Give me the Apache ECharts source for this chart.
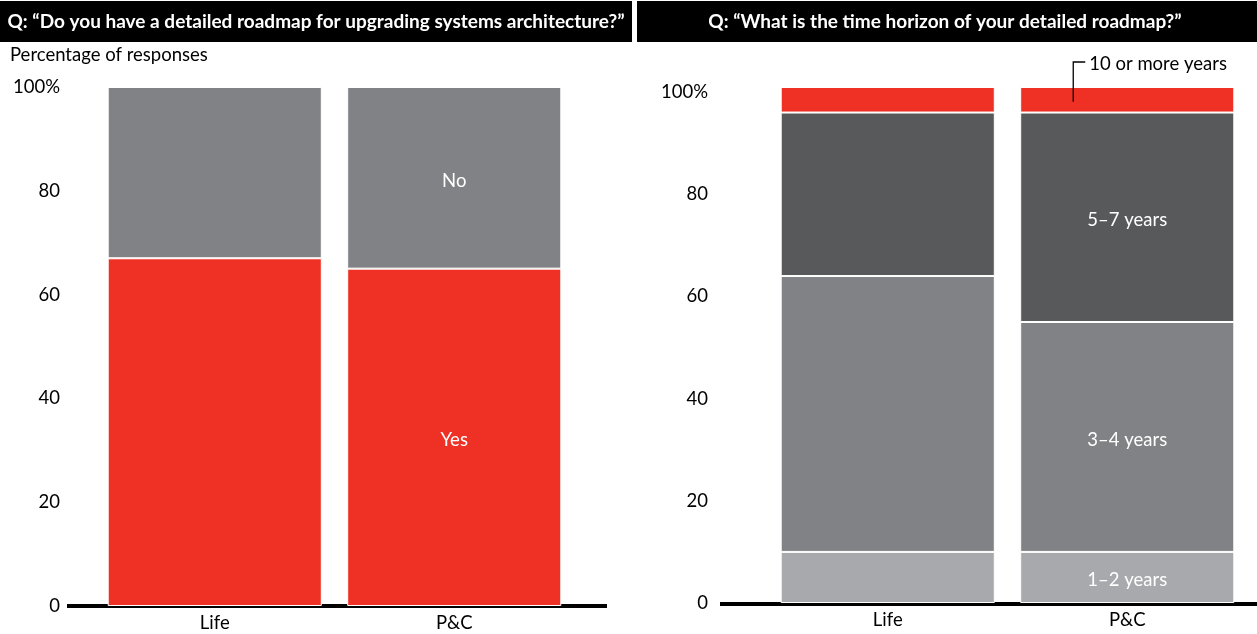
<!DOCTYPE html>
<html><head><meta charset="utf-8">
<script src="https://cdn.jsdelivr.net/npm/echarts@6/dist/echarts.min.js"></script>
<style>html,body{margin:0;padding:0;background:#fff}#c{width:1257px;height:634px}</style>
</head><body><div id="c"></div>
<script>
const categories = ['Life', 'P&C'];
// Left panel: "Do you have a detailed roadmap..."
const leftYes = [67, 65];
const leftNo = [33, 35];
// Right panel: time horizon (rounded shares, stacks reach 101)
const r12 = [10, 10];
const r34 = [54, 45];
const r57 = [32, 41];
const r10 = [5, 5];
const yTickMax = 100;
const yTickStep = 20;
const leftTitle = 'Q: \u201cDo you have a detailed roadmap for upgrading systems architecture?\u201d';
const rightTitle = 'Q: \u201cWhat is the time horizon of your detailed roadmap?\u201d';
const yAxisName = 'Percentage of responses';
const labelsLeft = {Yes: 'Yes', No: 'No'};
const labelsRight = {r12: '1\u20132 years', r34: '3\u20134 years', r57: '5\u20137 years', r10: '10 or more years'};

const FONT = 'Lato';
const FS = 18.5;
const RED = '#EF3125', G1 = '#58595B', G2 = '#808285', G3 = '#A7A9AC';

const chart = echarts.init(document.getElementById('c'), null, {renderer: 'canvas'});

function mk(vals, name, color, gi, labelText, labelIdx) {
  return {
    type: 'bar', name: name, stack: 's' + gi, xAxisIndex: gi, yAxisIndex: gi,
    barWidth: '89.4%',
    data: vals.map((v, i) => ({
      value: v,
      label: {show: labelText != null && i === labelIdx, formatter: labelText || ''}
    })),
    itemStyle: {color: color, borderColor: '#fff', borderWidth: 1},
    label: {position: 'inside', color: '#fff', fontFamily: FONT, fontSize: FS, offset: [0, 3]},
    emphasis: {disabled: true},
    silent: true
  };
}

const rightMax = Math.max(...categories.map((c, i) => r12[i] + r34[i] + r57[i] + r10[i]));

const yAx = (gi, margin, max, pad) => ({
  type: 'value', gridIndex: gi, min: 0, max: max, interval: yTickStep,
  axisLine: {show: false}, axisTick: {show: false}, splitLine: {show: false},
  axisLabel: {margin: margin, color: '#000', fontFamily: FONT, fontSize: FS, padding: [pad, 0, 0, 0],
    formatter: v => v % yTickStep !== 0 ? '' : (v === yTickMax ? v + '%' : String(v))}
});
const xAx = gi => ({
  type: 'category', gridIndex: gi, data: categories,
  axisLine: {show: false}, axisTick: {show: false},
  axisLabel: {margin: 8, color: '#000', fontFamily: FONT, fontSize: FS}
});

chart.setOption({
  animation: false,
  textStyle: {fontFamily: FONT},
  grid: [
    {left: 95, right: 1257 - 574, top: 87, bottom: 28},
    {left: 768, right: 10, top: 87, bottom: 31}
  ],
  xAxis: [xAx(0), xAx(1)],
  yAxis: [yAx(0, 35, yTickMax, 4), yAx(1, 60, rightMax, 0)],
  series: [
    mk(leftYes, 'Yes', RED, 0, labelsLeft.Yes, 1),
    mk(leftNo, 'No', G2, 0, labelsLeft.No, 1),
    mk(r12, '1-2', G3, 1, labelsRight.r12, 1),
    mk(r34, '3-4', G2, 1, labelsRight.r34, 1),
    mk(r57, '5-7', G1, 1, labelsRight.r57, 1),
    mk(r10, '10+', RED, 1, null, -1)
  ]
});

// decorations positioned from the axes
const b0a = chart.convertToPixel({gridIndex: 0}, [0, 0]);
const b1a = chart.convertToPixel({gridIndex: 1}, [0, 0]);
const pc = chart.convertToPixel({gridIndex: 1}, [1, r12[1] + r34[1] + r57[1] + r10[1] / 2]);
const lx = pc[0] - 54;
chart.setOption({
  graphic: [
    {id: 'h1', type: 'rect', shape: {x: 0, y: 1, width: 632, height: 41}, style: {fill: '#000'}, silent: true},
    {id: 'h2', type: 'rect', shape: {x: 637, y: 1, width: 620, height: 41}, style: {fill: '#000'}, silent: true},
    {id: 't1', type: 'text', x: 316, y: 22, style: {text: leftTitle, fill: '#fff', font: 'bold 19px ' + FONT, textAlign: 'center', textVerticalAlign: 'middle'}, silent: true},
    {id: 't2', type: 'text', x: 945, y: 22, style: {text: rightTitle, fill: '#fff', font: 'bold 19px ' + FONT, textAlign: 'center', textVerticalAlign: 'middle'}, silent: true},
    {id: 'yn', type: 'text', x: 10, y: 55, style: {text: yAxisName, fill: '#000', font: FS + 'px ' + FONT, textVerticalAlign: 'middle'}, silent: true},
    {id: 'b1', type: 'rect', shape: {x: 67, y: b0a[1] - 2, width: 540, height: 4}, style: {fill: '#000'}, silent: true},
    {id: 'b2', type: 'rect', shape: {x: 720, y: b1a[1] - 1, width: 537, height: 4}, style: {fill: '#000'}, silent: true},
    {id: 'cl', type: 'polyline', shape: {points: [[lx, pc[1] + 2], [lx, 62], [lx + 12, 62]]}, style: {stroke: '#000', lineWidth: 1.3, fill: null}, silent: true, z: 100},
    {id: 'ct', type: 'text', x: lx + 16, y: 64, style: {text: labelsRight.r10, fill: '#000', font: FS + 'px ' + FONT, textVerticalAlign: 'middle'}, silent: true}
  ]
});
</script>
</body></html>
